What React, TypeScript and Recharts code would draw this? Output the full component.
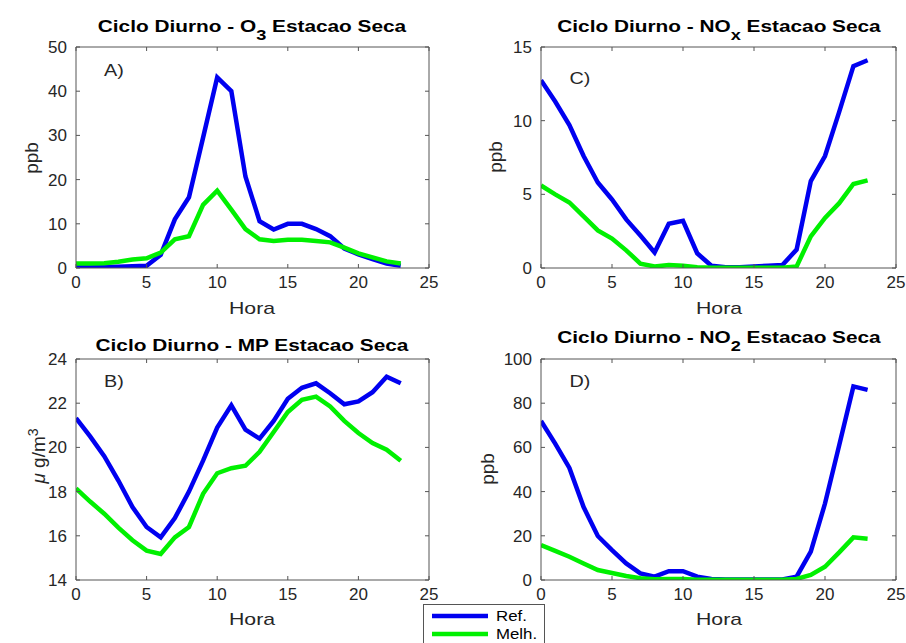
import React from 'react';
import { LineChart, Line, XAxis, YAxis, Legend } from 'recharts';

const hours = [0, 1, 2, 3, 4, 5, 6, 7, 8, 9, 10, 11, 12, 13, 14, 15, 16, 17, 18, 19, 20, 21, 22, 23];

// O3 (ppb)
const o3Ref = [0.5, 0.3, 0.2, 0.3, 0.4, 0.5, 3.0, 11.0, 16.0, 29.5, 43.1, 40.0, 20.7, 10.6, 8.7, 10.0, 10.0, 8.8, 7.2, 4.4, 3.1, 2.0, 1.0, 0.5];
const o3Melh = [1.0, 1.0, 1.1, 1.4, 1.9, 2.2, 3.5, 6.5, 7.2, 14.3, 17.5, 13.2, 8.8, 6.5, 6.1, 6.4, 6.4, 6.1, 5.8, 4.6, 3.3, 2.4, 1.5, 1.0];

// NOx (ppb)
const noxRef = [12.75, 11.3, 9.7, 7.6, 5.8, 4.65, 3.3, 2.2, 1.05, 3.0, 3.2, 1.0, 0.15, 0.05, 0.05, 0.1, 0.15, 0.2, 1.25, 5.9, 7.6, 10.6, 13.7, 14.1];
const noxMelh = [5.6, 5.0, 4.45, 3.5, 2.55, 2.0, 1.2, 0.3, 0.1, 0.2, 0.15, 0.05, 0.02, 0.02, 0.02, 0.02, 0.02, 0.02, 0.1, 2.15, 3.4, 4.4, 5.7, 5.95];

// MP (ug/m3)
const mpRef = [21.33, 20.5, 19.6, 18.5, 17.3, 16.4, 15.93, 16.8, 18.0, 19.4, 20.9, 21.9, 20.8, 20.4, 21.2, 22.2, 22.7, 22.9, 22.45, 21.95, 22.08, 22.5, 23.2, 22.9];
const mpMelh = [18.14, 17.55, 17.0, 16.37, 15.8, 15.33, 15.18, 15.93, 16.4, 17.9, 18.83, 19.06, 19.17, 19.8, 20.7, 21.6, 22.15, 22.3, 21.85, 21.2, 20.65, 20.2, 19.9, 19.4];

// NO2 (ppb)
const no2Ref = [72, 61.7, 50.7, 33, 19.9, 13.5, 7.5, 3, 1.5, 4, 4, 1.5, 0.5, 0.2, 0.2, 0.2, 0.2, 0.2, 1.5, 12.8, 34.6, 61, 87.6, 86];
const no2Melh = [15.8, 13.2, 10.5, 7.5, 4.5, 3.2, 1.8, 0.8, 0.3, 0.5, 0.5, 0.1, 0.1, 0.1, 0.1, 0.1, 0.1, 0.1, 0.5, 2.3, 6, 12.5, 19.3, 18.7];

const xTicks = [0, 5, 10, 15, 20, 25];
const o3Ticks = [0, 10, 20, 30, 40, 50];
const noxTicks = [0, 5, 10, 15];
const mpTicks = [14, 16, 18, 20, 22, 24];
const no2Ticks = [0, 20, 40, 60, 80, 100];

const BLUE = '#0000f0';
const GREEN = '#00f000';
const AXIS = '#555555';
const TXT = '#262626';
const FONT = '"Liberation Sans", Arial, Helvetica, sans-serif';

const rows = (ref: number[], melh: number[]) =>
  hours.map((h, i) => ({ hour: h, ref: ref[i], melh: melh[i] }));

const blank = () => '';

function LegendBox(props: any) {
  // keep plotting order: Ref. first
  const items = [...(props.payload || [])].sort((a: any, b: any) =>
    a.dataKey === 'ref' ? -1 : b.dataKey === 'ref' ? 1 : 0
  );
  return (
    <div
      style={{
        width: 122,
        height: 44,
        boxSizing: 'border-box',
        border: `1px solid ${AXIS}`,
        background: '#fff',
        paddingTop: 2,
        fontFamily: FONT,
      }}
    >
      {items.map((it: any) => (
        <div key={it.value} style={{ height: 18, display: 'flex', alignItems: 'center' }}>
          <svg width={66} height={18} style={{ display: 'block' }}>
            <line x1={8} x2={64} y1={9} y2={9} stroke={it.color} strokeWidth={4.5} />
          </svg>
          <span
            style={{
              fontSize: 14,
              color: '#000',
              marginLeft: 6,
              display: 'inline-block',
              transform: 'scaleX(1.2)',
              transformOrigin: 'left center',
            }}
          >
            {it.value}
          </span>
        </div>
      ))}
    </div>
  );
}

type PanelProps = {
  left: number;
  top: number;
  height: number;
  margin: { top: number; right: number; bottom: number; left: number };
  data: { hour: number; ref: number; melh: number }[];
  yTicks: number[];
  legend?: boolean;
};

function Panel({ left, top, height, margin, data, yTicks, legend }: PanelProps) {
  const dom = [yTicks[0], yTicks[yTicks.length - 1]];
  const tickStyle = { fill: TXT, fontSize: 17, fontFamily: FONT };
  // every axis takes 1px, so the plot box lands where the margins say
  const m = { top: margin.top - 1, right: margin.right - 1, bottom: margin.bottom - 1, left: margin.left - 1 };
  return (
    <div style={{ position: 'absolute', left, top }}>
      <LineChart width={453} height={height} data={data} margin={m}>
        <XAxis
          dataKey="hour"
          type="number"
          domain={[0, 25]}
          ticks={xTicks}
          interval={0}
          allowDataOverflow
          height={1}
          tickSize={-4}
          tickMargin={12}
          stroke={AXIS}
          tick={tickStyle}
        />
        <XAxis
          xAxisId="top"
          orientation="top"
          dataKey="hour"
          type="number"
          domain={[0, 25]}
          ticks={xTicks}
          interval={0}
          allowDataOverflow
          height={1}
          tickSize={-4}
          tickFormatter={blank}
          stroke={AXIS}
          tick={tickStyle}
        />
        <YAxis
          type="number"
          domain={dom}
          ticks={yTicks}
          interval={0}
          allowDataOverflow
          width={1}
          tickSize={-4}
          tickMargin={13}
          stroke={AXIS}
          tick={tickStyle}
        />
        <YAxis
          yAxisId="right"
          orientation="right"
          type="number"
          domain={dom}
          ticks={yTicks}
          interval={0}
          allowDataOverflow
          width={1}
          tickSize={-4}
          tickFormatter={blank}
          stroke={AXIS}
          tick={tickStyle}
        />
        <Line dataKey="ref" name="Ref." stroke={BLUE} strokeWidth={4.5} dot={false} isAnimationActive={false} />
        <Line dataKey="melh" name="Melh." stroke={GREEN} strokeWidth={4.5} dot={false} isAnimationActive={false} />
        {legend && (
          <Legend
            layout="vertical"
            align="center"
            verticalAlign="middle"
            wrapperStyle={{ left: -30, top: 304, width: 122, height: 44 }}
            content={LegendBox}
          />
        )}
      </LineChart>
    </div>
  );
}

function Caption({ x, y, size, bold, sx = 1, children }: any) {
  return (
    <div
      style={{
        position: 'absolute',
        left: x,
        top: y - 0.13 * size,
        fontSize: size,
        fontWeight: bold ? 700 : 400,
        fontFamily: FONT,
        color: bold ? '#000' : TXT,
        lineHeight: 1,
        whiteSpace: 'nowrap',
        transform: `translateX(-50%) scaleX(${sx})`,
      }}
    >
      {children}
    </div>
  );
}

function VLabel({ x, y, size, children }: any) {
  return (
    <div
      style={{
        position: 'absolute',
        left: x,
        top: y,
        fontSize: size,
        fontFamily: FONT,
        color: TXT,
        lineHeight: 1,
        whiteSpace: 'nowrap',
        transform: 'translate(-50%, -50%) rotate(-90deg)',
      }}
    >
      {children}
    </div>
  );
}

const sub = (t: string) => (
  <span style={{ fontSize: 14, position: 'relative', top: 8 }}>{t}</span>
);

export default function App() {
  return (
    <div style={{ position: 'relative', width: 906, height: 643, background: '#fff', overflow: 'hidden' }}>
      <style>{'body{margin:0}'}</style>

      <Panel left={0} top={0} height={300} margin={{ top: 47, right: 24, bottom: 32, left: 76 }} data={rows(o3Ref, o3Melh)} yTicks={o3Ticks} />
      <Panel left={453} top={0} height={300} margin={{ top: 47, right: 10, bottom: 32, left: 88 }} data={rows(noxRef, noxMelh)} yTicks={noxTicks} />
      <Panel left={0} top={300} height={343} margin={{ top: 59, right: 24, bottom: 63, left: 76 }} data={rows(mpRef, mpMelh)} yTicks={mpTicks} />
      <Panel left={453} top={300} height={343} margin={{ top: 59, right: 10, bottom: 63, left: 88 }} data={rows(no2Ref, no2Melh)} yTicks={no2Ticks} legend />

      <Caption x={252} y={21} size={16} bold sx={1.3}>
        Ciclo Diurno - O{sub('3')} Estacao Seca
      </Caption>
      <Caption x={718.5} y={21} size={16} bold sx={1.3}>
        Ciclo Diurno - NO{sub('x')} Estacao Seca
      </Caption>
      <Caption x={252} y={340} size={16} bold sx={1.3}>
        Ciclo Diurno - MP Estacao Seca
      </Caption>
      <Caption x={718.5} y={332} size={16} bold sx={1.3}>
        Ciclo Diurno - NO{sub('2')} Estacao Seca
      </Caption>

      <Caption x={114} y={64} size={16.5} sx={1.2}>A)</Caption>
      <Caption x={580} y={72} size={16.5} sx={1.2}>C)</Caption>
      <Caption x={114} y={375} size={16.5} sx={1.2}>B)</Caption>
      <Caption x={580} y={375} size={16.5} sx={1.2}>D)</Caption>

      <Caption x={252} y={302} size={17} sx={1.25}>Hora</Caption>
      <Caption x={718.5} y={302} size={17} sx={1.25}>Hora</Caption>
      <Caption x={252} y={613} size={17} sx={1.25}>Hora</Caption>
      <Caption x={718.5} y={613} size={17} sx={1.25}>Hora</Caption>

      <VLabel x={31} y={158} size={19}>ppb</VLabel>
      <VLabel x={495} y={157} size={19}>ppb</VLabel>
      <VLabel x={487} y={469} size={19}>ppb</VLabel>
      <VLabel x={37} y={456} size={19}>
        <span style={{ fontStyle: 'italic' }}>μ</span> g/m<sup style={{ fontSize: 14 }}>3</sup>
      </VLabel>
    </div>
  );
}
